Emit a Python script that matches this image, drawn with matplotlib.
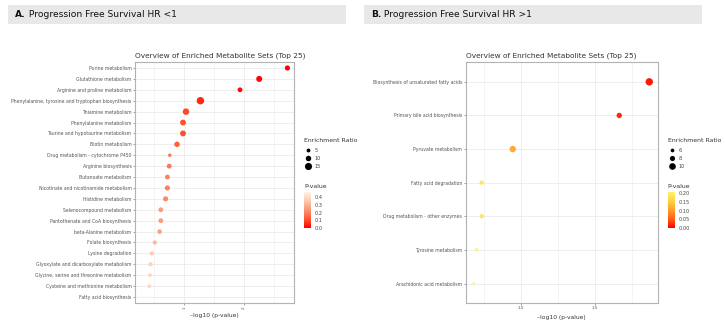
import numpy as np
import matplotlib.pyplot as plt
from matplotlib.colors import LinearSegmentedColormap, Normalize
from matplotlib.patches import Rectangle

# panel A data (top to bottom)
sets_a = ['Purine metabolism', 'Glutathione metabolism', 'Arginine and proline metabolism',
          'Phenylalanine, tyrosine and tryptophan biosynthesis', 'Thiamine metabolism',
          'Phenylalanine metabolism', 'Taurine and hypotaurine metabolism', 'Biotin metabolism',
          'Drug metabolism - cytochrome P450', 'Arginine biosynthesis', 'Butanoate metabolism',
          'Nicotinate and nicotinamide metabolism', 'Histidine metabolism',
          'Selenocompound metabolism', 'Pantothenate and CoA biosynthesis',
          'beta-Alanine metabolism', 'Folate biosynthesis', 'Lysine degradation',
          'Glyoxylate and dicarboxylate metabolism', 'Glycine, serine and threonine metabolism',
          'Cysteine and methionine metabolism', 'Fatty acid biosynthesis']
logp_a = [2.72, 2.25, 1.93, 1.27, 1.03, 0.98, 0.98, 0.88, 0.76, 0.75, 0.72,
          0.72, 0.69, 0.61, 0.61, 0.59, 0.51, 0.46, 0.44, 0.43, 0.42, 0.33]
ratio_a = [9, 11.5, 8, 16, 13, 11, 11, 10, 4, 8, 8, 9, 9, 8, 8, 7.5, 6.5, 6, 6, 5, 5, 5]

# panel B data
sets_b = ['Biosynthesis of unsaturated fatty acids', 'Primary bile acid biosynthesis',
          'Pyruvate metabolism', 'Fatty acid degradation', 'Drug metabolism - other enzymes',
          'Tyrosine metabolism', 'Arachidonic acid metabolism']
logp_b = [1.867, 1.664, 0.944, 0.734, 0.734, 0.70, 0.68]
ratio_b = [11.1, 8.3, 9.7, 6.9, 6.9, 5.4, 4.7]

W, H = 725, 321
PX = 72 / 100  # points per pixel


def size_a(r):
    return ((2.2 + 0.33 * np.asarray(r)) * PX) ** 2


def size_b(r):
    return ((-0.6 + 0.72 * np.asarray(r)) * PX) ** 2


cmap_a = LinearSegmentedColormap.from_list('a', ['#FF0000', '#FF5A32', '#FA9878', '#FCCDB4', '#FFF6EC'])
cmap_b = LinearSegmentedColormap.from_list('b', ['#FF0000', '#FF6410', '#FFA030', '#FFD544', '#FFF47A'])
norm_a = Normalize(0, 0.465)
norm_b = Normalize(0, 0.208)

fig = plt.figure(figsize=(7.25, 3.21), dpi=100)

grid_c = '#EBEBEB'
frame_c = '#B3B3B3'
text_c = '#555555'


def fr(x0, y0, x1, y1):
    return [x0 / W, 1 - y1 / H, (x1 - x0) / W, (y1 - y0) / H]


def style(ax):
    for s in ax.spines.values():
        s.set_color(frame_c)
        s.set_linewidth(0.8)
    ax.grid(True, which='major', color=grid_c, linewidth=0.6)
    ax.grid(True, which='minor', axis='x', color=grid_c, linewidth=0.4)
    ax.set_axisbelow(True)
    ax.tick_params(axis='both', which='major', length=1.5, width=0.5, color='#777777',
                   labelcolor=text_c, pad=1)
    ax.tick_params(axis='x', which='minor', length=0)
    ax.set_title('Overview of Enriched Metabolite Sets (Top 25)', loc='left',
                 fontsize=5.3, color='#333333', pad=3)
    ax.set_xlabel('\u2013log10 (p-value)', fontsize=4.3, color='#333333', labelpad=3)


# panel A
axa = fig.add_axes(fr(135, 62, 294, 303))
ya = np.arange(len(sets_a))[::-1]
pa = 10 ** (-np.array(logp_a))
axa.scatter(logp_a, ya, s=size_a(ratio_a), c=pa, cmap=cmap_a, norm=norm_a, linewidths=0, zorder=3)
axa.set_xlim(0.18, 2.83)
axa.set_ylim(-0.55, len(sets_a) - 0.45)
axa.set_yticks(ya)
axa.set_yticklabels(sets_a, fontsize=3.3)
axa.set_xticks([1, 2])
axa.set_xticklabels(['1', '2'], fontsize=3, rotation=90)
axa.set_xticks([0.5, 1.5, 2.5], minor=True)
style(axa)

# panel B
axb = fig.add_axes(fr(465.7, 62, 658, 303))
yb = np.arange(len(sets_b))[::-1]
pb = 10 ** (-np.array(logp_b))
axb.scatter(logp_b, yb, s=size_b(ratio_b), c=pb, cmap=cmap_b, norm=norm_b, linewidths=0, zorder=3)
axb.set_xlim(0.626, 1.926)
axb.set_ylim(-0.58, len(sets_b) - 0.41)
axb.set_yticks(yb)
axb.set_yticklabels(sets_b, fontsize=3.3)
axb.set_xticks([1.0, 1.5])
axb.set_xticklabels(['1.0', '1.5'], fontsize=3)
axb.set_xticks([0.75, 1.25, 1.75], minor=True)
style(axb)

# overlay in pixel coords for headers and legends
ov = fig.add_axes([0, 0, 1, 1])
ov.set_xlim(0, W)
ov.set_ylim(H, 0)
ov.axis('off')

for x0, x1, lab, rest in [(8, 346, 'A.', ' Progression Free Survival HR <1'),
                          (364, 702, 'B.', ' Progression Free Survival HR >1')]:
    ov.add_patch(Rectangle((x0, 4.7), x1 - x0, 19.3, color='#E8E8E8', lw=0))
    t = ov.text(x0 + 7, 14.5, lab, fontsize=6.6, fontweight='bold', va='center', color='#111111')
    fig.canvas.draw()
    bb = t.get_window_extent()
    ov.text(bb.x1 * W / fig.bbox.width, 14.5, rest, fontsize=6.6, va='center', color='#111111')


def legend(x, ratios, sfun, cmap, norm, ticks, fmt):
    ov.text(x, 140, 'Enrichment Ratio', fontsize=4.4, color='#333333', va='center')
    for i, r in enumerate(ratios):
        yy = 150 + 8 * i
        ov.scatter([x + 4], [yy], s=sfun(r), color='black', linewidths=0)
        ov.text(x + 11, yy, str(r), fontsize=3.6, color='#444444', va='center')
    ov.text(x, 186, 'P-value', fontsize=4.4, color='#333333', va='center')
    cax = fig.add_axes(fr(x, 192, x + 6.7, 228))
    grad = np.linspace(0, norm.vmax, 200).reshape(-1, 1)
    cax.imshow(grad, aspect='auto', cmap=cmap, norm=norm, origin='lower',
               extent=[0, 1, 0, norm.vmax])
    cax.set_xticks([])
    cax.yaxis.tick_right()
    cax.set_yticks(ticks)
    cax.set_yticklabels([fmt.format(t) for t in ticks], fontsize=3.6, color='#444444')
    cax.tick_params(axis='y', length=1.2, width=0.4, color='white', pad=1.5)
    for s in cax.spines.values():
        s.set_visible(False)


legend(304, [5, 10, 15], size_a, cmap_a, norm_a, [0.0, 0.1, 0.2, 0.3, 0.4], '{:.1f}')
legend(667.7, [6, 8, 10], size_b, cmap_b, norm_b, [0.0, 0.05, 0.10, 0.15, 0.20], '{:.2f}')

fig.savefig('out.png', dpi=100)
